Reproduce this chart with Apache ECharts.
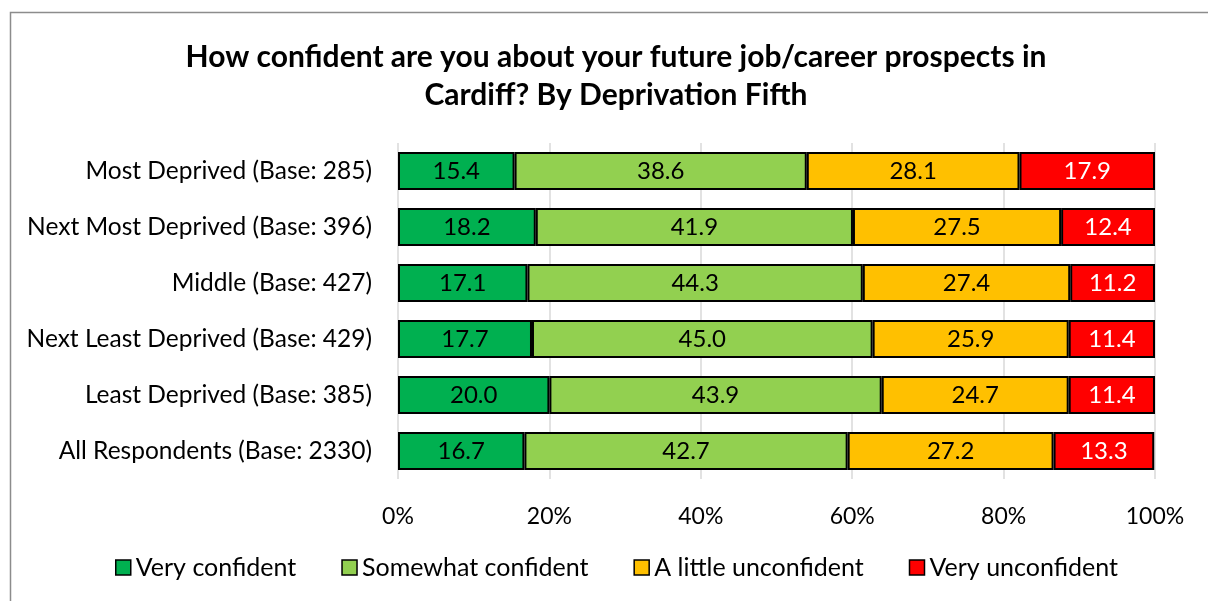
<!DOCTYPE html>
<html>
<head>
<meta charset="utf-8">
<script src="https://cdn.jsdelivr.net/npm/echarts@6/dist/echarts.min.js"></script>
<style>
  html, body { margin: 0; padding: 0; background: #fff; }
  #main { width: 1208px; height: 601px; }
</style>
</head>
<body>
<div id="main"></div>
<script>
// categories, top to bottom as shown
const categories = [
  'Most Deprived (Base: 285)',
  'Next Most Deprived (Base: 396)',
  'Middle (Base: 427)',
  'Next Least Deprived (Base: 429)',
  'Least Deprived (Base: 385)',
  'All Respondents (Base: 2330)'
];
const veryConfident = [15.4, 18.2, 17.1, 17.7, 20.0, 16.7];
const somewhatConfident = [38.6, 41.9, 44.3, 45.0, 43.9, 42.7];
const littleUnconfident = [28.1, 27.5, 27.4, 25.9, 24.7, 27.2];
const veryUnconfident = [17.9, 12.4, 11.2, 11.4, 11.4, 13.3];
const xTicks = [0, 20, 40, 60, 80, 100];

const font = 'Lato, "Open Sans", sans-serif';

function makeSeries(name, data, color, labelColor) {
  return {
    name: name,
    type: 'bar',
    stack: 'total',
    barCategoryGap: '32%',
    data: data,
    itemStyle: { color: color, borderColor: '#000', borderWidth: 2 },
    label: {
      show: true,
      position: 'inside',
      color: labelColor,
      fontSize: 24,
      fontFamily: font,
      formatter: p => p.value.toFixed(1)
    }
  };
}

let myChart = echarts.init(document.getElementById('main'));
myChart.setOption({
  animation: false,
  graphic: [{
    type: 'rect',
    shape: { x: 10.5, y: 12.5, width: 1400, height: 800 },
    style: { fill: 'none', stroke: '#8c8c8c', lineWidth: 1.5 },
    silent: true,
    z: -10
  }],
  title: {
    text: 'How confident are you about your future job/career prospects in\nCardiff? By Deprivation Fifth',
    left: 611,
    textAlign: 'center',
    top: 33,
    textStyle: { fontFamily: font, fontWeight: 'bold', fontSize: 30, color: '#000', lineHeight: 38 }
  },
  legend: {
    bottom: 16,
    left: 110,
    icon: 'rect',
    itemWidth: 15,
    itemHeight: 15,
    itemGap: 45,
    textStyle: { fontFamily: font, fontSize: 25, color: '#000' },
    itemStyle: { borderColor: '#000', borderWidth: 1.5 },
    data: ['Very confident', 'Somewhat confident', 'A little unconfident', 'Very unconfident']
  },
  grid: { left: 398, right: 53, top: 143, bottom: 122, containLabel: false },
  xAxis: {
    type: 'value',
    min: 0,
    max: 100,
    interval: 20,
    axisLine: { show: false },
    axisTick: { show: false },
    splitLine: { lineStyle: { color: '#d9d9d9', width: 1.5 } },
    axisLabel: {
      color: '#000', fontSize: 23, fontFamily: font, margin: 26,
      formatter: v => xTicks.includes(v) ? v + '%' : ''
    }
  },
  yAxis: {
    type: 'category',
    inverse: true,
    data: categories,
    axisLine: { show: false },
    axisTick: { show: false },
    axisLabel: { color: '#000', fontSize: 24.5, fontFamily: font, margin: 26 }
  },
  series: [
    makeSeries('Very confident', veryConfident, '#00B050', '#000'),
    makeSeries('Somewhat confident', somewhatConfident, '#92D050', '#000'),
    makeSeries('A little unconfident', littleUnconfident, '#FFC000', '#000'),
    makeSeries('Very unconfident', veryUnconfident, '#FF0000', '#fff')
  ]
});
</script>
</body>
</html>
